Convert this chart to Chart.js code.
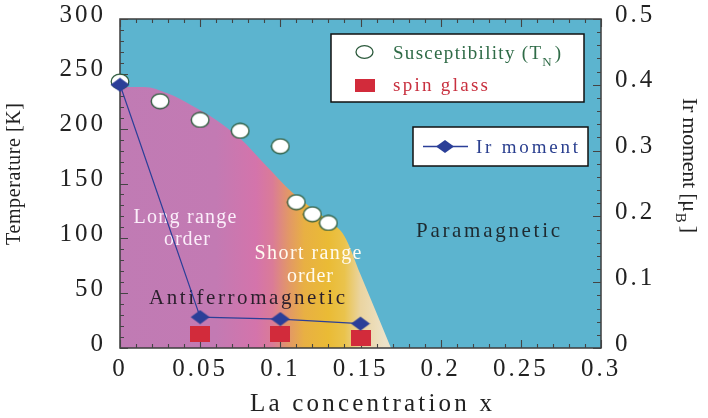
<!DOCTYPE html>
<html><head><meta charset="utf-8">
<script src="https://cdn.jsdelivr.net/npm/chart.js@4"></script>
<style>html,body{margin:0;padding:0;background:#fff}canvas{display:block}</style>
</head><body>
<canvas id="c" width="708" height="418"></canvas>
<script>
// ---- data ----
const xTicks = [0, 0.05, 0.1, 0.15, 0.2, 0.25, 0.3];
const xTickLabels = ['0', '0.05', '0.1', '0.15', '0.2', '0.25', '0.3'];
const tTicks = [0, 50, 100, 150, 200, 250, 300];
const tTickLabels = ['0', '50', '100', '150', '200', '250', '300'];
const mTicks = [0, 0.1, 0.2, 0.3, 0.4, 0.5];
const mTickLabels = ['0', '0.1', '0.2', '0.3', '0.4', '0.5'];

// ordered-phase boundary (La concentration, temperature K)
const boundaryX = [0, 0.015, 0.03, 0.045, 0.06, 0.075, 0.09, 0.108, 0.12, 0.13, 0.14, 0.15, 0.16, 0.169];
const boundaryT = [238, 238, 232, 221, 208, 191, 168, 141, 127, 116, 102, 67, 32, 0];

// Susceptibility (T_N)
const suscX = [0, 0.025, 0.05, 0.075, 0.1, 0.11, 0.12, 0.13];
const suscT = [243, 225, 208, 198, 184, 133, 122, 114];

// spin glass
const glassX = [0.05, 0.1, 0.15];
const glassT = [13, 13, 9];

// Ir moment (mu_B)
const irX = [0, 0.05, 0.1, 0.15];
const irMoment = [0.40, 0.047, 0.044, 0.037];

// ---- styles ----
const SERIF = '"Liberation Serif", "Times New Roman", serif';
const fillStops = [[0, '#c07bb4'], [0.06, '#c37ab3'], [0.085, '#d474ab'], [0.095, '#da7b98'],
  [0.105, '#e29768'], [0.115, '#e8b043'], [0.13, '#eabb35'], [0.14, '#eac34c'], [0.15, '#ead4a0'], [0.165, '#ede2c8']];

function mk(w, h, draw) { const c = document.createElement('canvas'); c.width = w; c.height = h; draw(c.getContext('2d')); return c; }
const diamondImg = mk(20, 15, g => { g.beginPath(); g.moveTo(10, 0.5); g.lineTo(19.5, 7.5); g.lineTo(10, 14.5); g.lineTo(0.5, 7.5); g.closePath(); g.fillStyle = '#2b3f98'; g.fill(); });
const circleImg = mk(20, 17, g => { g.beginPath(); g.ellipse(10, 8.5, 8.8, 7.3, 0, 0, Math.PI * 2); g.fillStyle = '#fff'; g.fill(); g.lineWidth = 1.3; g.strokeStyle = '#2c5a3c'; g.stroke(); });
const squareImg = mk(20, 16, g => { g.fillStyle = '#d22b3b'; g.fillRect(0, 0, 20, 16); });

function drawText(ctx, text, x, y, font, color, target, align) {
  ctx.save();
  ctx.font = font; ctx.fillStyle = color;
  try { ctx.letterSpacing = '0px'; } catch (e) {}
  const w0 = ctx.measureText(text).width;
  let sp = 0;
  if (target) sp = (target - w0) / Math.max(1, text.length - 1);
  try { ctx.letterSpacing = sp + 'px'; } catch (e) {}
  const total = w0 + sp * (text.length - 1);
  const sx = align === 'center' ? x - total / 2 : align === 'right' ? x - total : x;
  ctx.textAlign = 'left'; ctx.textBaseline = 'alphabetic';
  ctx.fillText(text, sx, y);
  ctx.restore();
  return sx + total + sp;
}

const decor = {
  id: 'decor',
  beforeDraw(chart) {
    const { ctx, chartArea: a } = chart;
    ctx.save();
    ctx.fillStyle = '#fff'; ctx.fillRect(0, 0, chart.width, chart.height);
    ctx.fillStyle = '#5cb4cf'; ctx.fillRect(a.left, a.top, a.right - a.left, a.bottom - a.top);
    ctx.restore();
    try { ctx.letterSpacing = '3px'; } catch (e) {}
  },
  afterDatasetDraw(chart, args) {
    if (args.index !== 0) return;
    const { ctx, chartArea: a, scales } = chart;
    // region labels
    drawText(ctx, 'Long range', 185, 223, '20px ' + SERIF, '#fbeefa', 103, 'center');
    drawText(ctx, 'order', 187, 245, '20px ' + SERIF, '#fbeefa', 46, 'center');
    drawText(ctx, 'Short range', 308, 259, '20px ' + SERIF, '#fffbf0', 107, 'center');
    drawText(ctx, 'order', 310, 282, '20px ' + SERIF, '#fffbf0', 46, 'center');
    drawText(ctx, 'Antiferromagnetic', 247, 304, '21px ' + SERIF, '#2a1f2c', 196, 'center');
    drawText(ctx, 'Paramagnetic', 488, 237, '21px ' + SERIF, '#1e2a30', 144, 'center');
    // frame
    ctx.save();
    ctx.strokeStyle = '#3c3c3c'; ctx.lineWidth = 1.5;
    ctx.strokeRect(a.left, a.top, a.right - a.left, a.bottom - a.top);
    ctx.lineWidth = 1.1; ctx.strokeStyle = '#444';
    ctx.beginPath();
    for (let i = 0; i <= 30; i++) {
      const px = Math.round(scales.x.getPixelForValue(i / 100)) + 0.5;
      const L = i % 5 === 0 ? 8 : 4;
      ctx.moveTo(px, a.bottom); ctx.lineTo(px, a.bottom - L);
      ctx.moveTo(px, a.top); ctx.lineTo(px, a.top + L);
    }
    for (let i = 0; i <= 30; i++) {
      const py = Math.round(scales.y.getPixelForValue(i * 10)) + 0.5;
      const L = i % 5 === 0 ? 8 : 4;
      ctx.moveTo(a.left, py); ctx.lineTo(a.left + L, py);
    }
    for (let i = 0; i <= 25; i++) {
      const py = Math.round(scales.y2.getPixelForValue(i * 0.02)) + 0.5;
      const L = i % 5 === 0 ? 8 : 4;
      ctx.moveTo(a.right, py); ctx.lineTo(a.right - L, py);
    }
    ctx.stroke();
    ctx.restore();
  },
  afterDraw(chart) {
    const { ctx } = chart;
    ctx.save();
    try { ctx.letterSpacing = '0px'; } catch (e) {}
    // axis titles
    ctx.save(); ctx.translate(20, 174); ctx.rotate(-Math.PI / 2);
    drawText(ctx, 'Temperature [K]', 0, 0, '20px ' + SERIF, '#222', 142, 'center');
    ctx.restore();
    ctx.save(); ctx.translate(683, 98); ctx.rotate(Math.PI / 2);
    let e = drawText(ctx, 'Ir moment [\u03bc', 0, 0, '22px ' + SERIF, '#222', 114, 'left');
    e = drawText(ctx, 'B', e + 1, 7, '15px ' + SERIF, '#222', 0, 'left');
    drawText(ctx, ']', e + 3, 0, '22px ' + SERIF, '#222', 0, 'left');
    ctx.restore();
    drawText(ctx, 'La concentration x', 371, 411, '25px ' + SERIF, '#222', 242, 'center');
    // legend box 1
    ctx.fillStyle = '#fff'; ctx.fillRect(331, 34, 253, 68);
    ctx.strokeStyle = '#111'; ctx.lineWidth = 1.5; ctx.strokeRect(331, 34, 253, 68);
    ctx.beginPath(); ctx.ellipse(364.5, 52, 8.5, 6.3, 0, 0, Math.PI * 2);
    ctx.fillStyle = '#fff'; ctx.fill(); ctx.lineWidth = 1.3; ctx.strokeStyle = '#2c5a3c'; ctx.stroke();
    e = drawText(ctx, 'Susceptibility (T', 393, 59, '19px ' + SERIF, '#2f6b47', 148, 'left');
    e = drawText(ctx, 'N', e, 66, '13px ' + SERIF, '#2f6b47', 0, 'left');
    drawText(ctx, ')', e + 3, 59, '19px ' + SERIF, '#2f6b47', 0, 'left');
    ctx.fillStyle = '#d22b3b'; ctx.fillRect(355, 79, 20, 13);
    drawText(ctx, 'spin glass', 393, 91, '19px ' + SERIF, '#c8303f', 95, 'left');
    // legend box 2
    ctx.fillStyle = '#fff'; ctx.fillRect(413, 127, 175, 39);
    ctx.strokeStyle = '#111'; ctx.lineWidth = 1.5; ctx.strokeRect(413, 127, 175, 39);
    ctx.beginPath(); ctx.moveTo(423, 146.5); ctx.lineTo(468, 146.5);
    ctx.strokeStyle = '#2b3f98'; ctx.lineWidth = 1.5; ctx.stroke();
    ctx.beginPath(); ctx.moveTo(445, 140); ctx.lineTo(454, 146.5); ctx.lineTo(445, 153); ctx.lineTo(436, 146.5); ctx.closePath();
    ctx.fillStyle = '#2b3f98'; ctx.fill();
    drawText(ctx, 'Ir moment', 476, 153, '19px ' + SERIF, '#2a3f8f', 102, 'left');
    ctx.restore();
  }
};

const tickFont = { family: SERIF, size: 25 };

new Chart(document.getElementById('c'), {
  type: 'line',
  data: {
    datasets: [
      {
        label: 'phase', data: boundaryX.map((x, i) => ({ x, y: boundaryT[i] })), yAxisID: 'y',
        fill: 'origin', borderWidth: 0, borderColor: 'rgba(0,0,0,0)', pointRadius: 0,
        cubicInterpolationMode: 'monotone', order: 4,
        backgroundColor(context) {
          const chart = context.chart; const a = chart.chartArea;
          if (!a) return '#c07bb4';
          const xs = chart.scales.x;
          const g = chart.ctx.createLinearGradient(xs.getPixelForValue(0), 0, xs.getPixelForValue(0.165), 0);
          fillStops.forEach(([v, c]) => g.addColorStop(v / 0.165, c));
          return g;
        }
      },
      {
        type: 'scatter', label: 'Susceptibility (TN)', data: suscX.map((x, i) => ({ x, y: suscT[i] })),
        yAxisID: 'y', pointStyle: circleImg, pointRadius: 9, order: 3, clip: false, showLine: false
      },
      {
        type: 'scatter', label: 'spin glass', data: glassX.map((x, i) => ({ x, y: glassT[i] })),
        yAxisID: 'y', pointStyle: squareImg, pointRadius: 9, order: 2, clip: false, showLine: false
      },
      {
        label: 'Ir moment', data: irX.map((x, i) => ({ x, y: irMoment[i] })), yAxisID: 'y2',
        borderColor: '#2b3f98', borderWidth: 1.2, pointStyle: diamondImg, pointRadius: 9,
        fill: false, tension: 0, order: 1, clip: false
      }
    ]
  },
  options: {
    responsive: false, animation: false, events: [],
    layout: { padding: { top: 19, left: 0, right: 0, bottom: 0 } },
    plugins: { legend: { display: false }, tooltip: { enabled: false } },
    scales: {
      x: {
        type: 'linear', min: 0, max: 0.3, position: 'bottom',
        afterBuildTicks: s => { s.ticks = xTicks.map(v => ({ value: v })); },
        ticks: { callback: (v, i) => xTickLabels[i], font: tickFont, color: '#222', padding: 6, maxRotation: 0, autoSkip: false },
        grid: { display: false, drawTicks: false, tickLength: 0 },
        border: { display: false },
        afterFit: s => { s.height = 70; s.paddingLeft = 0; s.paddingRight = 0; }
      },
      y: {
        type: 'linear', min: 0, max: 300, position: 'left',
        afterBuildTicks: s => { s.ticks = tTicks.map(v => ({ value: v })); },
        ticks: { callback: (v, i) => tTickLabels[i], font: tickFont, color: '#222', padding: 14, labelOffset: -4 },
        grid: { display: false, drawTicks: false, tickLength: 0 },
        border: { display: false },
        afterFit: s => { s.width = 120; s.paddingTop = 0; s.paddingBottom = 0; }
      },
      y2: {
        type: 'linear', min: 0, max: 0.5, position: 'right',
        afterBuildTicks: s => { s.ticks = mTicks.map(v => ({ value: v })); },
        ticks: { callback: (v, i) => mTickLabels[i], font: tickFont, color: '#222', padding: 14, labelOffset: -4 },
        grid: { display: false, drawTicks: false, tickLength: 0 },
        border: { display: false },
        afterFit: s => { s.width = 107; s.paddingTop = 0; s.paddingBottom = 0; }
      }
    }
  },
  plugins: [decor]
});
</script>
</body></html>
